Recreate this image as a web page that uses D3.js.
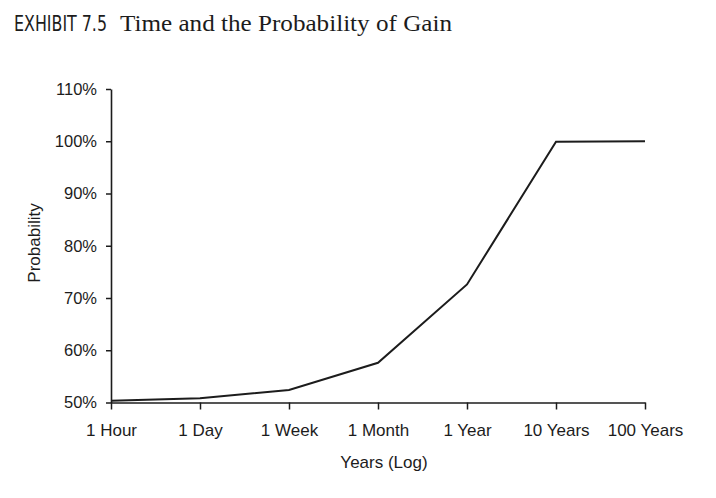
<!DOCTYPE html>
<html>
<head>
<meta charset="utf-8">
<script src="https://cdn.jsdelivr.net/npm/d3@7"></script>
<style>
  html, body { margin: 0; padding: 0; background: #fff; }
  svg { display: block; }
</style>
</head>
<body>
<svg id="chart" width="716" height="498"></svg>
<script>
// ---- data ----
const categories = ["1 Hour", "1 Day", "1 Week", "1 Month", "1 Year", "10 Years", "100 Years"];
const probability = [0.5035, 0.508, 0.524, 0.576, 0.726, 0.999, 1.0];
const yTicks = [0.5, 0.6, 0.7, 0.8, 0.9, 1.0, 1.1];
const titleLabel = "EXHIBIT 7.5";
const titleText = "Time and the Probability of Gain";
const xTitle = "Years (Log)";
const yTitle = "Probability";

const svg = d3.select("#chart");
const ink = "#1c1c1c";

const x = d3.scalePoint().domain(categories).range([111, 645]);
const y = d3.scaleLinear().domain([0.5, 1.1]).range([402.5, 89]);

// title
svg.append("text")
  .attr("x", 14).attr("y", 31)
  .attr("font-family", "'Liberation Sans Narrow', 'DejaVu Sans Condensed', sans-serif")
  .attr("font-size", 21)
  .attr("textLength", 93).attr("lengthAdjust", "spacingAndGlyphs")
  .attr("fill", ink)
  .text(titleLabel);
svg.append("text")
  .attr("x", 120).attr("y", 30.5)
  .attr("font-family", "'Liberation Serif', 'DejaVu Serif', serif")
  .attr("font-size", 23.5)
  .attr("textLength", 332).attr("lengthAdjust", "spacingAndGlyphs")
  .attr("fill", ink)
  .text(titleText);

// y axis
const yAxis = svg.append("g")
  .attr("transform", "translate(111,0)")
  .call(d3.axisLeft(y).tickValues(yTicks).tickFormat(d3.format(".0%")).tickSize(5).tickPadding(9).tickSizeOuter(0));
yAxis.select(".domain").attr("stroke", ink).attr("stroke-width", 1.6);
yAxis.selectAll(".tick line").attr("stroke", ink).attr("stroke-width", 1.5);
yAxis.selectAll(".tick text")
  .attr("font-family", "'Liberation Sans', Arial, sans-serif")
  .attr("font-size", 16.5).attr("fill", ink);

// x axis
const xAxis = svg.append("g")
  .attr("transform", "translate(0,402.5)")
  .call(d3.axisBottom(x).tickSize(7).tickPadding(14).tickSizeOuter(0));
xAxis.select(".domain").attr("stroke", ink).attr("stroke-width", 1.6);
xAxis.selectAll(".tick line").attr("stroke", ink).attr("stroke-width", 1.5);
xAxis.selectAll(".tick text")
  .attr("font-family", "'Liberation Sans', Arial, sans-serif")
  .attr("font-size", 17).attr("fill", ink);

// axis titles
svg.append("text")
  .attr("x", 384).attr("y", 468)
  .attr("text-anchor", "middle")
  .attr("font-family", "'Liberation Sans', Arial, sans-serif")
  .attr("font-size", 17).attr("fill", ink)
  .text(xTitle);
svg.append("text")
  .attr("transform", "translate(40,243) rotate(-90)")
  .attr("text-anchor", "middle")
  .attr("font-family", "'Liberation Sans', Arial, sans-serif")
  .attr("font-size", 17).attr("fill", ink)
  .text(yTitle);

// line
const line = d3.line()
  .x((d, i) => x(categories[i]))
  .y(d => y(d));
svg.append("path")
  .datum(probability)
  .attr("d", line)
  .attr("fill", "none")
  .attr("stroke", ink)
  .attr("stroke-width", 2)
  .attr("stroke-linejoin", "miter");
</script>
</body>
</html>
